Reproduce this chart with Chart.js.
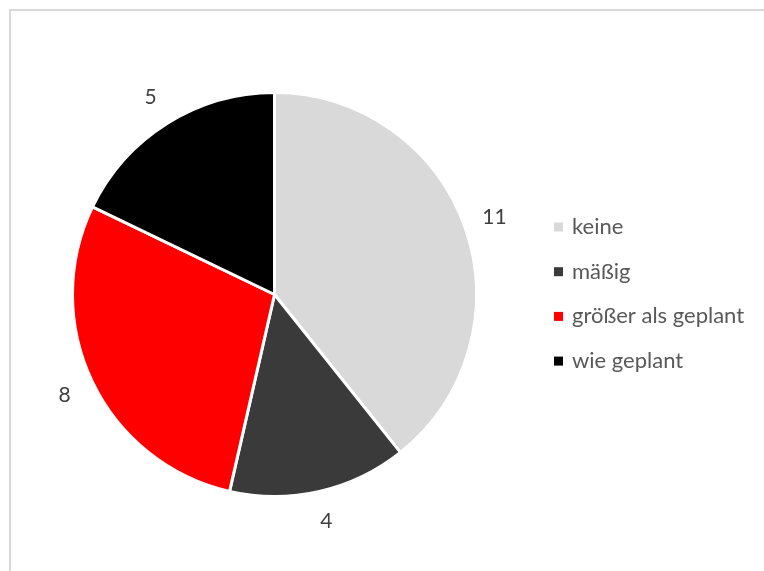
<!DOCTYPE html>
<html>
<head>
<meta charset="utf-8">
<script src="https://cdn.jsdelivr.net/npm/chart.js@4.4.1/dist/chart.umd.min.js"></script>
<style>
  html, body { margin: 0; padding: 0; background: #fff; }
  #wrap { position: relative; width: 764px; height: 571px; overflow: hidden; }
  #frame {
    position: absolute; left: 9px; top: 9px; width: 800px; height: 600px;
    border-top: 2px solid #d9d9d9; border-left: 2px solid #d9d9d9;
  }
  #chart { position: absolute; left: 0; top: 0; }
</style>
</head>
<body>
<div id="wrap">
  <div id="frame"></div>
  <canvas id="chart" width="764" height="571"></canvas>
</div>
<script>
const labels = ["keine", "mäßig", "größer als geplant", "wie geplant"];
const counts = [11, 4, 8, 5];
const sliceColors = ["#d9d9d9", "#3a3a3a", "#ff0000", "#000000"];

const FONT = "Lato, 'Open Sans', sans-serif";

// value labels just outside each slice
const outsideLabels = {
  id: "outsideLabels",
  afterDatasetsDraw(chart) {
    const ctx = chart.ctx;
    const meta = chart.getDatasetMeta(0);
    ctx.save();
    ctx.font = "21px " + FONT;
    ctx.fillStyle = "#404040";
    ctx.textAlign = "center";
    ctx.textBaseline = "middle";
    meta.data.forEach((arc, i) => {
      const p = arc.getProps(["x", "y", "startAngle", "endAngle", "outerRadius"], true);
      const mid = (p.startAngle + p.endAngle) / 2;
      const r = p.outerRadius + 31;
      ctx.fillText(String(counts[i]), p.x + Math.cos(mid) * r, p.y + Math.sin(mid) * r);
    });
    ctx.restore();
  }
};

// legend on the right, square markers
const sideLegend = {
  id: "sideLegend",
  afterDraw(chart) {
    const ctx = chart.ctx;
    ctx.save();
    ctx.font = "22px " + FONT;
    ctx.textBaseline = "middle";
    labels.forEach((name, i) => {
      const y = 227 + i * 44.7;
      ctx.fillStyle = sliceColors[i];
      ctx.fillRect(554, y - 4.5, 9, 9);
      ctx.fillStyle = "#595959";
      ctx.fillText(name, 572, y);
    });
    ctx.restore();
  }
};

new Chart(document.getElementById("chart"), {
  type: "pie",
  data: {
    labels,
    datasets: [{
      data: counts,
      backgroundColor: sliceColors,
      borderColor: "#ffffff",
      borderWidth: 3
    }]
  },
  options: {
    responsive: false,
    animation: false,
    layout: { padding: { left: 71, right: 286, top: 91, bottom: 73 } },
    plugins: {
      legend: { display: false },
      tooltip: { enabled: false }
    }
  },
  plugins: [outsideLabels, sideLegend]
});
</script>
</body>
</html>
